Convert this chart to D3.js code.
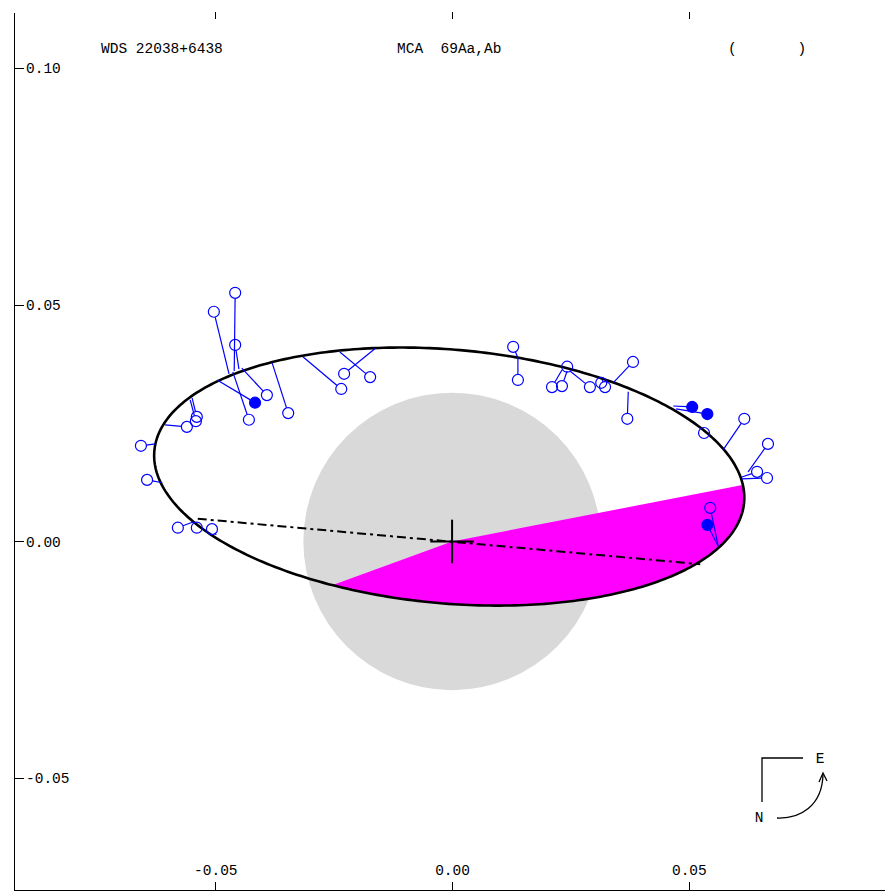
<!DOCTYPE html>
<html>
<head>
<meta charset="utf-8">
<title>MCA 69Aa,Ab</title>
<script src="https://cdn.jsdelivr.net/npm/d3@7"></script>
<style>
body { margin: 0; background: #fff; }
text { font-family: "Liberation Mono", "DejaVu Sans Mono", monospace; font-size: 14.5px; fill: #000; }
.axis path, .axis line { fill: none; stroke: #000; shape-rendering: crispEdges; }
.axis text { font-family: "Liberation Mono", "DejaVu Sans Mono", monospace; font-size: 14.5px; }
</style>
</head>
<body>
<script>
// tick labels
var xTicks = [-0.05, 0.00, 0.05];
var yTicks = [0.10, 0.05, 0.00, -0.05];

// apparent orbit (arcsec): centre, semi-axes, tilt in degrees
var orbitCentre = [-0.0006, 0.0137];
var orbitAxes = [0.0625, 0.0268];
var orbitTilt = -5;

var nodeLine = [[-0.0537, 0.0048], [0.0524, -0.0048]];
var sectorEnds = [[-0.0241, -0.0088], [0.0612, 0.0119]];
var circleR = 0.0314;

// measures and their O-C end points on the orbit
var obsX  = [-0.0657,-0.0644,-0.0560,-0.0539,-0.0541,-0.0503,-0.0458,-0.0458,-0.0429,-0.0416,-0.0391,-0.0346,-0.0579,-0.0539,-0.0507,-0.0234,-0.0228,-0.0173,0.0129,0.0139,0.0243,0.0211,0.0232,0.0291,0.0315,0.0323,0.0382,0.0370,0.0507,0.0539,0.0532,0.0617,0.0667,0.0644,0.0665,0.0545,0.0539];
var obsY  = [0.0202,0.0130,0.0242,0.0263,0.0254,0.0485,0.0525,0.0415,0.0257,0.0293,0.0309,0.0271,0.0029,0.0029,0.0026,0.0322,0.0354,0.0347,0.0411,0.0341,0.0369,0.0326,0.0328,0.0326,0.0335,0.0326,0.0379,0.0259,0.0284,0.0269,0.0229,0.0259,0.0206,0.0147,0.0134,0.0071,0.0035];
var calcX = [-0.0627,-0.0612,-0.0606,-0.0549,-0.0553,-0.0471,-0.0460,-0.0450,-0.0463,-0.0496,-0.0444,-0.0380,-0.0547,-0.0532,-0.0498,-0.0315,-0.0163,-0.0237,0.0139,0.0139,0.0239,0.0232,0.0243,0.0249,0.0308,0.0317,0.0340,0.0372,0.0467,0.0473,0.0524,0.0572,0.0625,0.0612,0.0612,0.0562,0.0562];
var calcY = [0.0206,0.0124,0.0246,0.0303,0.0299,0.0354,0.0360,0.0364,0.0358,0.0341,0.0366,0.0377,0.0041,0.0033,0.0014,0.0390,0.0407,0.0400,0.0388,0.0388,0.0364,0.0362,0.0360,0.0360,0.0343,0.0341,0.0335,0.0316,0.0286,0.0280,0.0231,0.0193,0.0147,0.0136,0.0132,-0.0010,-0.0010];
var filled = [0,0,0,0,0,0,0,0,0,1,0,0,0,0,0,0,0,0,0,0,0,0,0,0,0,0,0,0,1,1,0,0,0,0,0,0,1];

var W = 885, H = 894;
var svg = d3.select("body").append("svg")
    .attr("width", W)
    .attr("height", H);

var x = d3.scaleLinear().domain([-0.0925, 0.0912]).range([14, 884]);
var y = d3.scaleLinear().domain([-0.0736, 0.1118]).range([890, 12]);

// orbit outline
var tilt = orbitTilt * Math.PI / 180;
var orbitPts = d3.range(0, 360, 1).map(function(d) {
    var t = d * Math.PI / 180;
    var ex = orbitAxes[0] * Math.cos(t), ey = orbitAxes[1] * Math.sin(t);
    return [orbitCentre[0] + ex * Math.cos(tilt) - ey * Math.sin(tilt),
            orbitCentre[1] + ex * Math.sin(tilt) + ey * Math.cos(tilt)];
});
var line = d3.line().x(function(d) { return x(d[0]); }).y(function(d) { return y(d[1]); });

svg.append("clipPath").attr("id", "orbitClip")
   .append("path").attr("d", line.curve(d3.curveLinearClosed)(orbitPts));

// grey circle
svg.append("circle")
   .attr("cx", x(0)).attr("cy", y(0))
   .attr("r", x(circleR) - x(0))
   .attr("fill", "#d9d9d9");

// swept sector
var a1 = Math.atan2(sectorEnds[1][1], sectorEnds[1][0]);
var a0 = Math.atan2(sectorEnds[0][1], sectorEnds[0][0]);
if (a0 > a1) a0 -= 2 * Math.PI;
var wedge = [[0, 0]].concat(d3.range(a1, a0, -0.05).concat([a0]).map(function(a) {
    return [0.3 * Math.cos(a), 0.3 * Math.sin(a)];
}));
svg.append("path")
   .attr("d", d3.line().x(function(d) { return x(d[0]); }).y(function(d) { return y(d[1]); }).curve(d3.curveLinearClosed)(wedge))
   .attr("fill", "#ff00ff")
   .attr("clip-path", "url(#orbitClip)");

svg.append("path")
   .attr("d", line.curve(d3.curveLinearClosed)(orbitPts))
   .attr("fill", "none")
   .attr("stroke", "#000")
   .attr("stroke-width", 2.6);

// line of nodes
svg.append("path")
   .attr("d", d3.line().x(function(d) { return x(d[0]); }).y(function(d) { return y(d[1]); })(nodeLine))
   .attr("fill", "none")
   .attr("stroke", "#000")
   .attr("stroke-width", 2)
   .attr("stroke-dasharray", "9,4,3,4");

// primary
svg.append("line").attr("x1", x(-0.0046)).attr("x2", x(0.0046)).attr("y1", y(0)).attr("y2", y(0))
   .attr("stroke", "#000").attr("stroke-width", 2);
svg.append("line").attr("x1", x(0)).attr("x2", x(0)).attr("y1", y(0.0046)).attr("y2", y(-0.0046))
   .attr("stroke", "#000").attr("stroke-width", 2);

// measures
var obs = obsX.map(function(d, i) {
    return { x: d, y: obsY[i], cx: calcX[i], cy: calcY[i], f: filled[i] };
});
var rr = 5.5;
svg.selectAll(".oc").data(obs).enter().append("line")
   .attr("class", "oc")
   .each(function(d) {
       var px = x(d.x), py = y(d.y), qx = x(d.cx), qy = y(d.cy);
       var len = Math.hypot(qx - px, qy - py) || 1;
       var s = Math.min(rr, len) / len;
       d3.select(this)
         .attr("x1", px + (qx - px) * s).attr("y1", py + (qy - py) * s)
         .attr("x2", qx).attr("y2", qy);
   })
   .attr("stroke", "#0000ff")
   .attr("stroke-width", 1.2);

svg.selectAll(".ob").data(obs).enter().append("circle")
   .attr("class", "ob")
   .attr("cx", function(d) { return x(d.x); })
   .attr("cy", function(d) { return y(d.y); })
   .attr("r", rr)
   .attr("fill", function(d) { return d.f ? "#0000ff" : "none"; })
   .attr("stroke", "#0000ff")
   .attr("stroke-width", 1.2);

// axes
var fmt = function(d) { return d.toFixed(2); };
svg.append("g").attr("class", "axis")
   .attr("transform", "translate(14,0)")
   .call(d3.axisRight(y).tickValues(yTicks).tickFormat(fmt).tickSizeInner(10).tickSizeOuter(0).tickPadding(2));
svg.append("g").attr("class", "axis")
   .attr("transform", "translate(0,890)")
   .call(d3.axisTop(x).tickValues(xTicks).tickFormat(fmt).tickSizeInner(8).tickSizeOuter(0).tickPadding(7));
var topAxis = svg.append("g").attr("class", "axis")
   .attr("transform", "translate(0,12)")
   .call(d3.axisBottom(x).tickValues(xTicks).tickFormat("").tickSizeInner(7).tickSizeOuter(0));
topAxis.select(".domain").remove();
svg.selectAll(".axis text").attr("fill", "#000");

// header
svg.append("text").attr("x", 101).attr("y", 53).style("white-space", "pre").text("WDS 22038+6438");
svg.append("text").attr("x", 397).attr("y", 53).style("white-space", "pre").text("MCA  69Aa,Ab");
svg.append("text").attr("x", 728).attr("y", 53).style("white-space", "pre").text("(       )");

// compass
var comp = svg.append("g").attr("fill", "none").attr("stroke", "#000").attr("stroke-width", 1.3);
comp.append("path").attr("d", "M762,802 L762,758 L803,758");
comp.append("path").attr("d", "M777,818 C800,819 822,806 823,775");
comp.append("path").attr("d", "M819,782 L823,773 L827,781");
svg.append("text").attr("x", 820).attr("y", 758).attr("dy", "0.35em").attr("text-anchor", "middle").text("E");
svg.append("text").attr("x", 759).attr("y", 817).attr("dy", "0.35em").attr("text-anchor", "middle").text("N");
</script>
</body>
</html>
